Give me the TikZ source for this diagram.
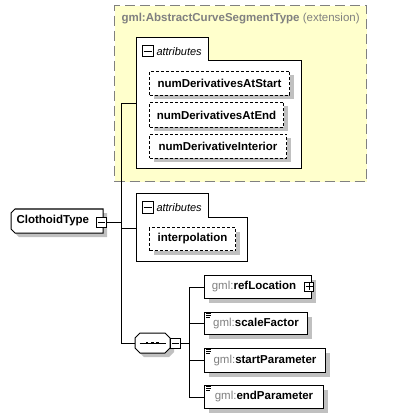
\documentclass[tikz,border=0pt]{standalone}
\usepackage{fontspec}
\setmainfont{Liberation Sans}
\usetikzlibrary{shadows}
\definecolor{shadowgray}{RGB}{192,192,192}
\definecolor{extfill}{RGB}{255,255,204}
\definecolor{extline}{RGB}{128,128,128}
\definecolor{gmlgray}{RGB}{128,128,128}
\newcommand{\gmlpfx}{{\mdseries\color{gmlgray}gml:}}
\begin{document}
\begin{tikzpicture}[x=1pt,y=-1pt,line width=1pt,
 shad/.style={drop shadow={shadow xshift=4pt,shadow yshift=-4pt,fill=shadowgray,opacity=1}},
 namefont/.style={font=\fontsize{11.5}{14}\selectfont\bfseries},
 attrbox/.style={rectangle,draw=black,fill=white,dash pattern=on 3pt off 2pt,shad,inner sep=0pt,anchor=north west,namefont},
 elembox/.style={rectangle,draw=black,fill=white,shad,inner sep=0pt,anchor=north west,namefont},
 pmbox/.style={rectangle,draw=black,fill=white,minimum size=10pt,inner sep=0pt},
 grpline/.style={draw=black,fill=white},
 tabtext/.style={anchor=west,inner sep=0pt,font=\fontsize{11}{13}\selectfont\itshape},
 icon/.style={line width=0.8pt}
]
\useasboundingbox (0,0) rectangle (401,419);

% extension box
\node[draw=extline,fill=extfill,line width=1.3pt,dash pattern=on 10pt off 5pt,anchor=north west,minimum width=252pt,minimum height=176pt,inner sep=0pt] (ext) at (114,5) {};
\node[anchor=west,inner sep=0pt,font=\fontsize{11.5}{14}\selectfont,text=gmlgray] (exttitle) at (121,19) {\textbf{gml:AbstractCurveSegmentType} (extension)};

% connectors
\coordinate (v1) at (121,104);
\coordinate (v2) at (121,343);
\coordinate (g1in) at (136,104);
\coordinate (g2in) at (136,228);
\coordinate (bus) at (189,343);
\draw (v1) -- (v2);
\draw (v1) -- (g1in);
\draw (g2in -| v1) -- (g2in);

% attribute group 1
\draw[grpline] (136,38) -- (208,38) -- (208,61) -- (301,61) -- (301,169) -- (136,169) -- cycle;
\node[pmbox,minimum size=11pt] (g1m) at (147.5,51.5) {};
\draw ([xshift=2pt]g1m.west) -- ([xshift=-2pt]g1m.east);
\node[tabtext] (g1t) at (156,51.5) {attributes};
\node[attrbox,minimum width=140pt,minimum height=24pt] (a1) at (149,71) {numDerivativesAtStart};
\node[attrbox,minimum width=134pt,minimum height=25pt] (a2) at (149,102) {numDerivativesAtEnd};
\node[attrbox,minimum width=137pt,minimum height=24pt] (a3) at (149,134) {numDerivativeInterior};

% attribute group 2
\draw[grpline] (136,194) -- (208,194) -- (208,217) -- (247,217) -- (247,261) -- (136,261) -- cycle;
\node[pmbox,minimum size=11pt] (g2m) at (147.5,207.5) {};
\draw ([xshift=2pt]g2m.west) -- ([xshift=-2pt]g2m.east);
\node[tabtext] (g2t) at (156,207.5) {attributes};
\node[attrbox,minimum width=86pt,minimum height=23pt] (a4) at (149,227) {interpolation};

% ClothoidType
\fill[shadowgray,shift={(4,4)}] (15,209) -- (103,209) -- (103,233) -- (15,233) -- (11,229) -- (11,213) -- cycle;
\draw[fill=white] (15,209) -- (103,209) -- (103,233) -- (15,233) -- (11,229) -- (11,213) -- cycle;
\node[anchor=west,inner sep=0pt,namefont] (ct) at (16,221) {ClothoidType};
\node[pmbox] (ctm) at (101,222) {};
\draw ([xshift=2pt]ctm.west) -- ([xshift=-2pt]ctm.east);
\draw (ctm.east) -- (ctm.east -| v1);

% sequence
\fill[shadowgray,shift={(4,4)}] (140,333) -- (165,333) -- (170,338) -- (170,348) -- (165,353) -- (140,353) -- (135,348) -- (135,338) -- cycle;
\draw[fill=white] (140,333) -- (165,333) -- (170,338) -- (170,348) -- (165,353) -- (140,353) -- (135,348) -- (135,338) -- cycle;
\node[inner sep=0pt,minimum width=35pt,minimum height=20pt] (seq) at (152.5,343) {};
\draw ([xshift=5pt]seq.west) -- ([xshift=-5pt]seq.east);
\foreach \dx in {147,152.3,157.6} \fill (\dx,343) +(-1.4,-1.4) rectangle +(1.4,1.4);
\node[pmbox] (seqm) at (175,343) {};
\draw ([xshift=2pt]seqm.west) -- ([xshift=-2pt]seqm.east);
\draw (v2) -- (seq.west);
\draw (seqm.east) -- (bus);

% elements
\node[elembox,minimum width=107pt,minimum height=23pt] (ref) at (204,275) {\gmlpfx refLocation\hspace*{8pt}};
\node[pmbox,minimum size=9pt] (refp) at (309,286.5) {};
\draw ([xshift=1.5pt]refp.west) -- ([xshift=-1.5pt]refp.east);
\draw ([yshift=-1.5pt]refp.north) -- ([yshift=1.5pt]refp.south);
\node[elembox,minimum width=103pt,minimum height=22pt] (sf) at (204,312) {\gmlpfx scaleFactor};
\node[elembox,minimum width=121pt,minimum height=24pt] (sp) at (204,348) {\gmlpfx startParameter};
\node[elembox,minimum width=119pt,minimum height=23pt] (ep) at (204,385) {\gmlpfx endParameter};
\foreach \n in {sf,sp,ep} {
  \draw[icon] ([xshift=2pt,yshift=-1.5pt]\n.north west) -- ++(5,0);
  \draw[icon] ([xshift=2pt,yshift=-3.5pt]\n.north west) -- ++(5,0);
  \draw[icon] ([xshift=2pt,yshift=-5.5pt]\n.north west) -- ++(3.5,0);
}
\draw (ref.west -| bus) -- (ep.west -| bus);
\foreach \n in {ref,sf,sp,ep} \draw (\n.west -| bus) -- (\n.west);
\end{tikzpicture}
\end{document}
